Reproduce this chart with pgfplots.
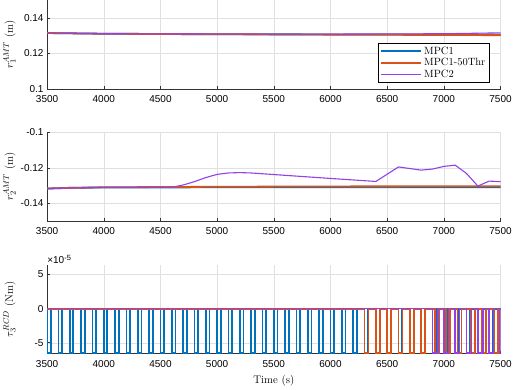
\documentclass[border=0pt]{standalone}
\usepackage{pgfplots}
\pgfplotsset{compat=1.18}
\usepackage{fontspec}
\newfontfamily\ticksans{Liberation Sans}

\definecolor{mblue}{rgb}{0,0.447,0.741}
\definecolor{morange}{rgb}{0.850,0.325,0.098}
\definecolor{mpurple}{RGB}{145,65,230}

\pgfplotsset{
  panel/.style={
    scale only axis,
    width=453pt, height=88.5pt,
    xmin=3500, xmax=7500,
    xtick={3500,4000,...,7500},
    axis x line*=bottom,
    axis y line*=left,
    axis line style={-, black!80, line width=0.5pt},
    tick align=inside,
    major tick length=3pt,
    tick style={black!80, line width=0.5pt},
    grid=major,
    grid style={black!12, line width=0.4pt},
    /pgf/number format/assume math mode=true,
    /pgf/number format/1000 sep={},
    ticklabel style={font=\ticksans\fontsize{10}{12}\selectfont},
    xticklabel style={yshift=-3pt},
    every axis y label/.style={at={(axis description cs:-0.083,0.5)}, rotate=90, anchor=center, font=\fontsize{11}{13}\selectfont},
    xlabel style={font=\fontsize{11}{13}\selectfont, yshift=-1pt},
  },
}

\begin{document}
\begin{tikzpicture}
% top panel
\begin{axis}[panel, at={(0,0)}, anchor=north west,
  ymin=0.1, ymax=0.15, ytick={0.1,0.12,0.14},
  yticklabels={0.1,0.12,0.14},
  ylabel={$r_1^{AMT}$ (m)},
  legend style={at={(axis description cs:0.976,0.067)}, anchor=south east, draw=black, line width=0.6pt,
    font=\fontsize{10.5}{12}\selectfont, row sep=-1.5pt, inner sep=2pt},
  legend cell align=left,
  legend image code/.code={\draw[#1] (0pt,0pt) -- (40pt,0pt);},
]
\addplot[mblue, line width=1.8pt] coordinates {(3500,0.1315) (4000,0.1311) (5000,0.1308) (6000,0.1307) (7500,0.1306)};
\addplot[morange, line width=1.8pt] coordinates {(3500,0.1315) (4000,0.1311) (5000,0.1308) (6000,0.1306) (7500,0.1303)};
\addplot[mpurple, line width=1.1pt] coordinates {(3500,0.1315) (4000,0.1311) (5000,0.1309) (6000,0.1309) (7000,0.1311) (7500,0.1316)};
\legend{MPC1, MPC1-50Thr, MPC2}
\end{axis}

% middle panel
\begin{axis}[panel, at={(0,-132pt)}, anchor=north west,
  ymin=-0.15, ymax=-0.1, ytick={-0.14,-0.12,-0.1},
  yticklabels={-0.14,-0.12,-0.1},
  ylabel={$r_2^{AMT}$ (m)},
]
\addplot[mblue, line width=1.8pt] coordinates {(3500,-0.1317) (3700,-0.1313) (4000,-0.1311) (5000,-0.1310) (6000,-0.1309) (7500,-0.1309)};
\addplot[morange, line width=1.8pt] coordinates {(3500,-0.1317) (3700,-0.1313) (4000,-0.1310) (5000,-0.1307) (6000,-0.1305) (7500,-0.1304)};
\addplot[mpurple, line width=1.1pt] coordinates {(3500,-0.1317) (4000,-0.1310) (4600,-0.1310) (4700,-0.1297) (4800,-0.1278)
  (4900,-0.1255) (5000,-0.1237) (5100,-0.1229) (5200,-0.1227) (5300,-0.1229) (5500,-0.1238) (6000,-0.1260)
  (6400,-0.1277) (6600,-0.1195) (6800,-0.1213) (6900,-0.1207) (7000,-0.1192) (7100,-0.1185) (7200,-0.1232)
  (7300,-0.1303) (7400,-0.1275) (7500,-0.1278)};
\end{axis}

% bottom panel
\begin{axis}[panel, at={(0,-264.5pt)}, anchor=north west,
  ymin=-6.6e-5, ymax=6.4e-5, ytick={-5e-5,0,5e-5},
  scaled y ticks=base 10:5,
  ytick scale label code/.code={{\ticksans\fontsize{10}{12}\selectfont ×10\raisebox{0.55ex}{\fontsize{7.5}{8}\selectfont -5}}},
  every y tick scale label/.style={at={(axis description cs:0,1)}, anchor=south west, inner sep=0pt, yshift=1pt},
  ylabel={$\tau_3^{RCD}$ (Nm)},
  xlabel={Time (s)},
]
\addplot[mblue, line width=1.8pt, const plot] coordinates {
  (3490,0)
  (3500,-6.5e-5) (3532,0) (3600,-6.5e-5) (3632,0) (3700,-6.5e-5) (3732,0) (3800,-6.5e-5) (3832,0)
  (3900,-6.5e-5) (3932,0) (4000,-6.5e-5) (4032,0) (4100,-6.5e-5) (4132,0) (4200,-6.5e-5) (4232,0)
  (4300,-6.5e-5) (4332,0) (4400,-6.5e-5) (4432,0) (4500,-6.5e-5) (4532,0) (4600,-6.5e-5) (4632,0)
  (4700,-6.5e-5) (4732,0) (4800,-6.5e-5) (4832,0) (4900,-6.5e-5) (4932,0) (5000,-6.5e-5) (5032,0)
  (5100,-6.5e-5) (5132,0) (5200,-6.5e-5) (5232,0) (5300,-6.5e-5) (5332,0) (5400,-6.5e-5) (5432,0)
  (5500,-6.5e-5) (5532,0) (5600,-6.5e-5) (5632,0) (5700,-6.5e-5) (5732,0) (5800,-6.5e-5) (5832,0)
  (5900,-6.5e-5) (5932,0) (6000,-6.5e-5) (6032,0) (6100,-6.5e-5) (6132,0) (6200,-6.5e-5) (6232,0)
  (6300,-6.5e-5) (6332,0) (6400,-6.5e-5) (6432,0) (6500,-6.5e-5) (6532,0) (6600,-6.5e-5) (6632,0)
  (6700,-6.5e-5) (6732,0) (6800,-6.5e-5) (6832,0) (6900,-6.5e-5) (6932,0) (7000,-6.5e-5) (7032,0)
  (7100,-6.5e-5) (7132,0) (7200,-6.5e-5) (7232,0) (7300,-6.5e-5) (7332,0) (7400,-6.5e-5) (7432,0)
  (7500,0)};
\addplot[morange, line width=1.8pt, const plot] coordinates {
  (3500,0)
  (6300,-6.5e-5) (6335,0) (6400,-6.5e-5) (6435,0) (6500,-6.5e-5) (6535,0) (6600,-6.5e-5) (6635,0)
  (6700,-6.5e-5) (6735,0) (6800,-6.5e-5) (6835,0) (6920,-6.5e-5) (6955,0) (7020,-6.5e-5) (7055,0)
  (7120,-6.5e-5) (7155,0) (7240,-6.5e-5) (7275,0) (7340,-6.5e-5) (7375,0) (7440,-6.5e-5) (7475,0)
  (7500,0)};
\addplot[mpurple, line width=1.5pt, const plot] coordinates {
  (3500,0)
  (6900,-6.5e-5) (6950,0) (7000,-6.5e-5) (7040,0) (7100,-6.5e-5) (7140,0) (7200,-6.5e-5) (7245,0)
  (7300,-6.5e-5) (7345,0) (7400,-6.5e-5) (7440,0) (7495,-6.5e-5) (7500,-6.5e-5)};
\end{axis}
\end{tikzpicture}
\end{document}
